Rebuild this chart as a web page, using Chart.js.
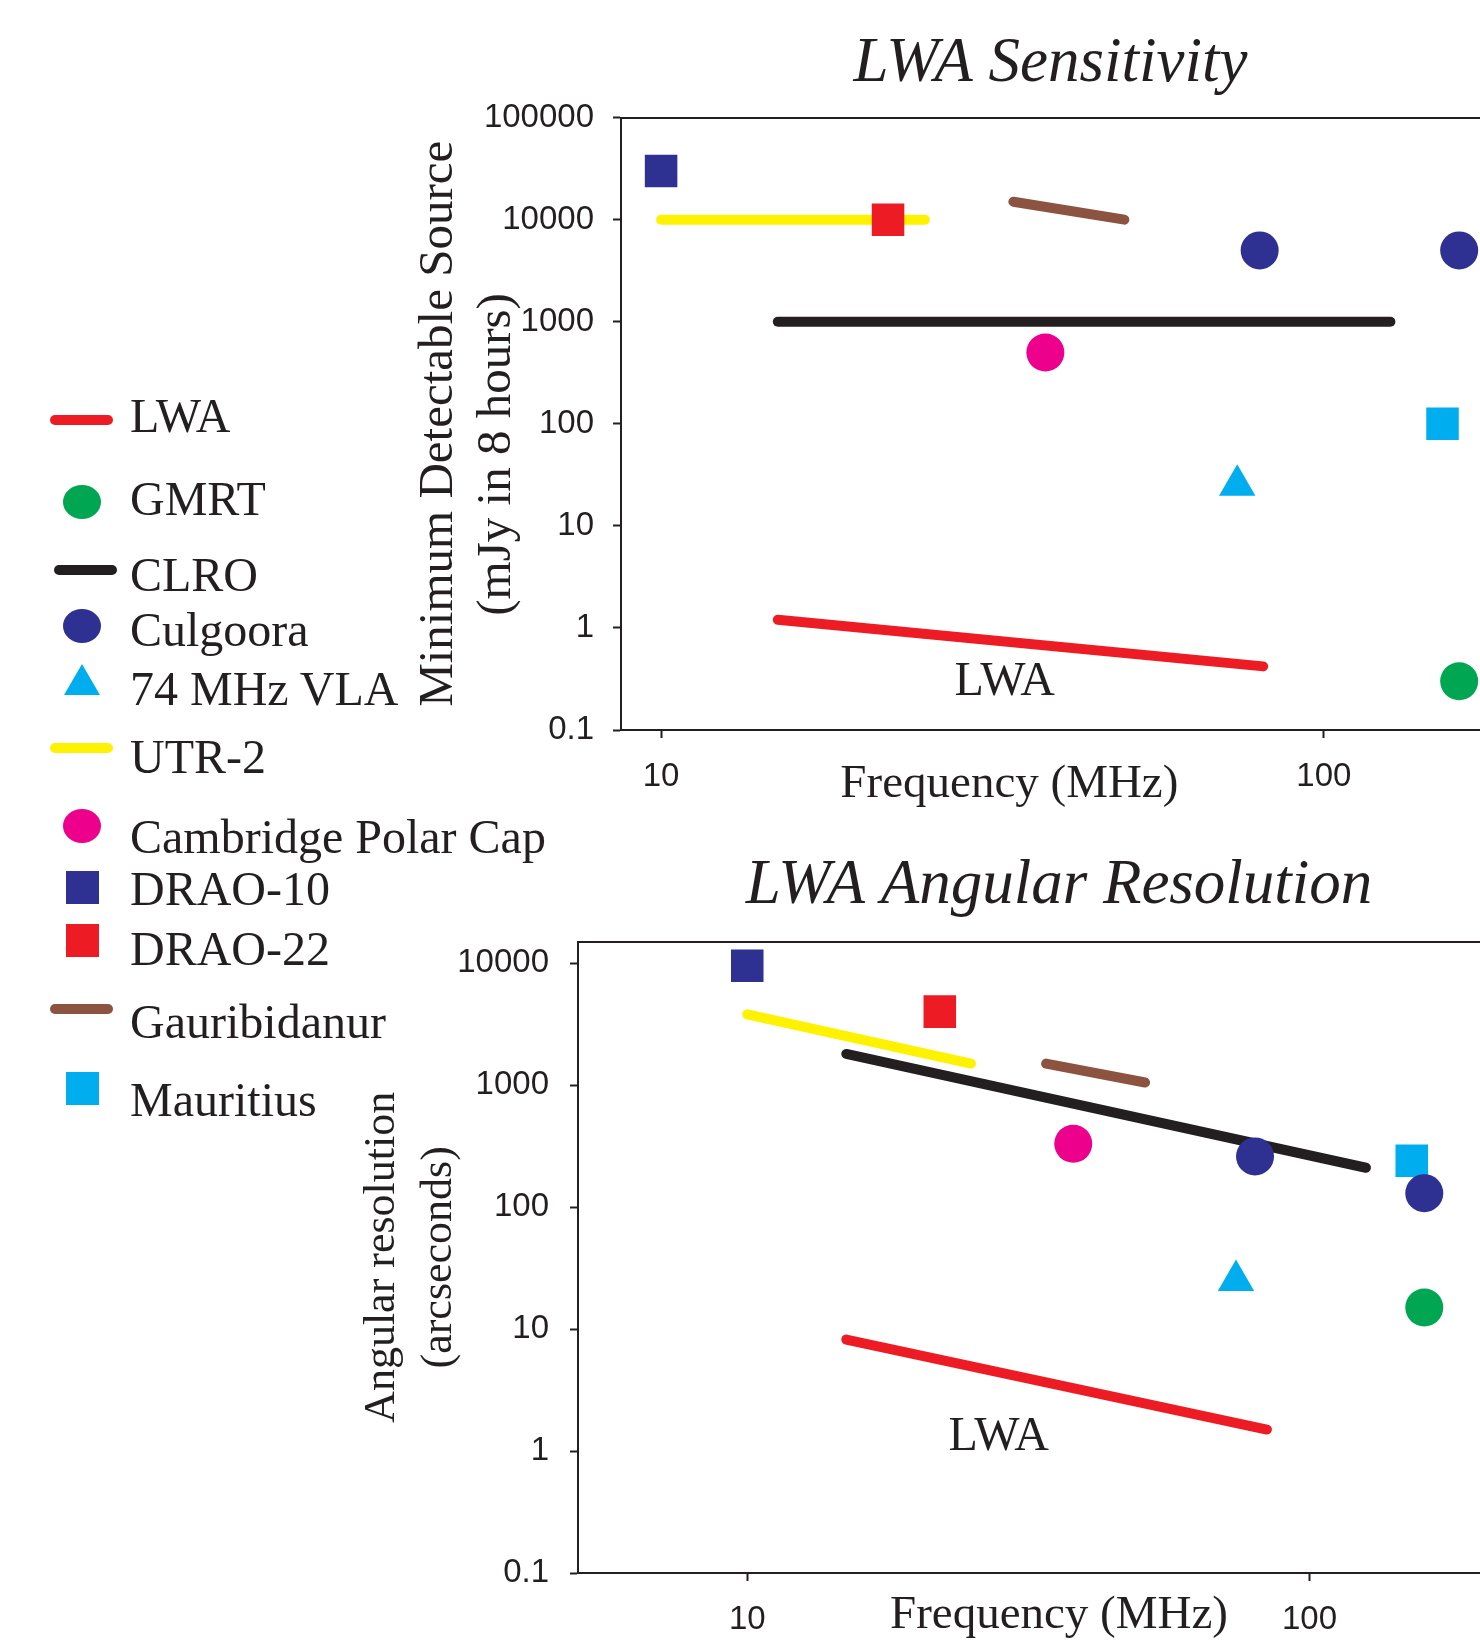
<!DOCTYPE html>
<html>
<head>
<meta charset="utf-8">
<script src="https://cdn.jsdelivr.net/npm/chart.js@4.4.1/dist/chart.umd.min.js"></script>
<style>
  html, body { margin: 0; padding: 0; background: #fff; overflow: hidden; }
  #page { position: relative; width: 1480px; height: 1640px; overflow: hidden; background: #fff; }
  #sens { position: absolute; left: 0; top: 0; }
  #res { position: absolute; left: 0; top: 820px; }
  #legend { position: absolute; left: 0; top: 0; font-family: 'Liberation Serif', 'Times New Roman', serif; font-size: 48px; color: #231f20; }
  .sym { position: absolute; }
  .name { position: absolute; left: 130px; line-height: 1; white-space: nowrap; transform: translateY(-50%); }
</style>
</head>
<body>
<div id="page">
  <canvas id="sens" width="1480" height="820"></canvas>
  <canvas id="res" width="1540" height="840"></canvas>
  <div id="legend"></div>
</div>
<script>
// instruments, as in the legend
const names = ['LWA', 'GMRT', 'CLRO', 'Culgoora', '74 MHz VLA', 'UTR-2', 'Cambridge Polar Cap', 'DRAO-10', 'DRAO-22', 'Gauribidanur', 'Mauritius'];
const colors = ['#ed1c24', '#00a651', '#231f20', '#2e3192', '#00aeef', '#fff200', '#ec008c', '#2e3192', '#ed1c24', '#8c5341', '#00aeef'];
const shapes = ['line', 'circle', 'line', 'circle', 'triangle', 'line', 'circle', 'rect', 'rect', 'line', 'rect'];

// sensitivity (mJy in 8 hours) vs frequency (MHz)
const sensFreq = {
  LWA: [15, 81], GMRT: [160], CLRO: [15, 126], Culgoora: [80, 160], VLA: [74], UTR2: [10, 25],
  Cambridge: [38], DRAO10: [10], DRAO22: [22], Gauribidanur: [34, 50], Mauritius: [151]
};
const lwaSens = [1.2, 0.42];
const gmrtSens = [0.3];
const clroSens = [1000, 1000];
const culgooraSens = [5000, 5000];
const vlaSens = [25];
const utr2Sens = [10000, 10000];
const cambridgeSens = [500];
const drao10Sens = [30000];
const drao22Sens = [10000];
const gauriSens = [15000, 10000];
const mauritiusSens = [100];

// angular resolution (arcseconds) vs frequency (MHz)
const resFreq = {
  LWA: [15, 84], GMRT: [160], CLRO: [15, 126], Culgoora: [80, 160], VLA: [74], UTR2: [10, 25],
  Cambridge: [38], DRAO10: [10], DRAO22: [22], Gauribidanur: [34, 51], Mauritius: [152]
};
const lwaRes = [8.2, 1.5];
const gmrtRes = [15];
const clroRes = [1800, 210];
const culgooraRes = [260, 130];
const vlaRes = [25];
const utr2Res = [3800, 1500];
const cambridgeRes = [330];
const drao10Res = [9500];
const drao22Res = [4000];
const gauriRes = [1500, 1050];
const mauritiusRes = [240];

const freqTicks = [10, 100];
const sensTicks = [0.1, 1, 10, 100, 1000, 10000, 100000];
const resTicks = [0.1, 1, 10, 100, 1000, 10000];

const ink = '#231f20';
const serif = "'Liberation Serif', 'Times New Roman', serif";
const sans = "'Liberation Sans', Arial, sans-serif";

function pts(xs, ys) {
  return xs.map((x, i) => ({ x: x, y: ys[i] }));
}

function lineSet(i, xs, ys) {
  return {
    label: names[i], data: pts(xs, ys), showLine: true,
    borderColor: colors[i], backgroundColor: colors[i], borderWidth: 10,
    borderCapStyle: 'round', pointRadius: 0, clip: false, order: 1
  };
}

function markSet(i, xs, ys) {
  let r = 19;
  if (shapes[i] == 'rect') r = 23;
  if (shapes[i] == 'triangle') r = 21;
  return {
    label: names[i], data: pts(xs, ys), showLine: false,
    pointStyle: shapes[i], pointRadius: r, pointHoverRadius: r,
    backgroundColor: colors[i], borderColor: colors[i], pointBorderWidth: 0,
    clip: false, order: 0
  };
}

// text inside the plot ("LWA" under the red line)
const noteLabel = {
  id: 'noteLabel',
  afterDatasetsDraw(chart, args, opts) {
    const ctx = chart.ctx;
    ctx.save();
    ctx.font = opts.size + 'px ' + serif;
    ctx.fillStyle = ink;
    ctx.textAlign = 'center';
    ctx.textBaseline = 'middle';
    ctx.fillText(opts.text, chart.scales.x.getPixelForValue(opts.x), chart.scales.y.getPixelForValue(opts.y));
    ctx.restore();
  }
};

function axisBits() {
  return {
    grid: { display: true, drawOnChartArea: false, drawTicks: true, tickLength: 8, tickColor: ink, tickWidth: 2 },
    border: { display: true, color: ink, width: 2 }
  };
}

function makeChart(el, cfg) {
  const xBits = axisBits();
  const yBits = axisBits();
  return new Chart(el, {
    type: 'scatter',
    data: { datasets: cfg.datasets },
    plugins: [noteLabel],
    options: {
      responsive: false,
      animation: false,
      events: [],
      layout: { padding: 0, autoPadding: false },
      plugins: {
        legend: { display: false },
        tooltip: { enabled: false },
        title: {
          display: true, text: cfg.title, fullSize: false, color: ink,
          font: { family: serif, size: 63, style: 'italic', weight: 'normal', lineHeight: 1.2 },
          padding: cfg.titlePad
        },
        noteLabel: cfg.note
      },
      scales: {
        x: {
          type: 'logarithmic', position: 'bottom', min: cfg.xMin, max: cfg.xMax,
          afterBuildTicks: s => { s.ticks = freqTicks.map(v => ({ value: v })); },
          afterFit: s => { s.height = cfg.xHeight; },
          ticks: { font: { family: sans, size: 33 }, color: ink, padding: cfg.xTickPad, maxRotation: 0, autoSkip: false, callback: v => String(v) },
          grid: xBits.grid, border: xBits.border,
          title: { display: true, text: cfg.xTitle, color: ink, font: { family: serif, size: 47 }, padding: { top: 0, bottom: cfg.xTitlePad } }
        },
        x2: {
          type: 'linear', position: 'top',
          ticks: { display: false }, grid: { display: false, drawTicks: false },
          border: { display: true, color: ink, width: 2 },
          afterFit: s => { s.height = 0; }
        },
        y: {
          type: 'logarithmic', position: 'left', min: cfg.yMin, max: cfg.yMax,
          afterBuildTicks: s => { s.ticks = cfg.yTicks.map(v => ({ value: v })); },
          afterFit: s => { s.width = cfg.yWidth; },
          ticks: { font: { family: sans, size: 33 }, color: ink, padding: cfg.yTickPad, autoSkip: false, callback: v => String(v) },
          grid: yBits.grid, border: yBits.border,
          title: { display: true, text: cfg.yTitle, color: ink, font: { family: serif, size: cfg.yTitleSize, lineHeight: cfg.yTitleLine }, padding: { top: cfg.yTitlePad, bottom: 0 } }
        }
      }
    }
  });
}

makeChart(document.getElementById('sens'), {
  title: 'LWA Sensitivity',
  titlePad: { top: 27, bottom: 15 },
  xMin: 8.7, xMax: 172, xHeight: 90, xTickPad: 19,
  xTitle: 'Frequency (MHz)       ', xTitlePad: 7,
  yMin: 0.1, yMax: 100000, yTicks: sensTicks, yWidth: 621, yTickPad: 19,
  yTitle: ['Minimum Detectable Source', '(mJy in 8 hours)     '], yTitleSize: 49, yTitleLine: 1.18, yTitlePad: 410,
  note: { text: 'LWA', x: 33, y: 0.29, size: 48 },
  datasets: [
    lineSet(0, sensFreq.LWA, lwaSens),
    markSet(1, sensFreq.GMRT, gmrtSens),
    lineSet(2, sensFreq.CLRO, clroSens),
    markSet(3, sensFreq.Culgoora, culgooraSens),
    markSet(4, sensFreq.VLA, vlaSens),
    lineSet(5, sensFreq.UTR2, utr2Sens),
    markSet(6, sensFreq.Cambridge, cambridgeSens),
    markSet(7, sensFreq.DRAO10, drao10Sens),
    markSet(8, sensFreq.DRAO22, drao22Sens),
    lineSet(9, sensFreq.Gauribidanur, gauriSens),
    markSet(10, sensFreq.Mauritius, mauritiusSens)
  ]
});

makeChart(document.getElementById('res'), {
  title: 'LWA Angular Resolution',
  titlePad: { top: 29, bottom: 17 },
  xMin: 5, xMax: 257, xHeight: 87, xTickPad: 19,
  xTitle: 'Frequency (MHz)', xTitlePad: 16,
  yMin: 0.1, yMax: 15000, yTicks: resTicks, yWidth: 578, yTickPad: 21,
  yTitle: ['Angular resolution', '(arcseconds)'], yTitleSize: 44, yTitleLine: 1.3, yTitlePad: 354,
  note: { text: 'LWA', x: 28, y: 1.3, size: 48 },
  datasets: [
    lineSet(0, resFreq.LWA, lwaRes),
    markSet(1, resFreq.GMRT, gmrtRes),
    lineSet(2, resFreq.CLRO, clroRes),
    markSet(3, resFreq.Culgoora, culgooraRes),
    markSet(4, resFreq.VLA, vlaRes),
    lineSet(5, resFreq.UTR2, utr2Res),
    markSet(6, resFreq.Cambridge, cambridgeRes),
    markSet(7, resFreq.DRAO10, drao10Res),
    markSet(8, resFreq.DRAO22, drao22Res),
    lineSet(9, resFreq.Gauribidanur, gauriRes),
    markSet(10, resFreq.Mauritius, mauritiusRes)
  ]
});

// legend on the left, built from the same names / colours / shapes
const legendTextY = [416, 499, 575, 630, 689, 757, 837, 889, 949, 1022, 1100];
const legendSymY = [420, 502, 570, 626, 680, 748, 826, 887, 940, 1009, 1088];
const legend = document.getElementById('legend');
names.forEach((name, i) => {
  const sym = document.createElement('div');
  sym.className = 'sym';
  const y = legendSymY[i];
  if (shapes[i] == 'line') {
    const x0 = (i == 2) ? 54 : 50;
    sym.style.cssText = `left:${x0}px;top:${y - 5}px;width:63px;height:10px;border-radius:5px;background:${colors[i]}`;
  } else if (shapes[i] == 'circle') {
    sym.style.cssText = `left:63px;top:${y - 17}px;width:38px;height:34px;border-radius:50%;background:${colors[i]}`;
  } else if (shapes[i] == 'rect') {
    sym.style.cssText = `left:66px;top:${y - 16}px;width:33px;height:33px;background:${colors[i]}`;
  } else {
    sym.style.cssText = `left:64px;top:${y - 16}px;width:0;height:0;border-left:18px solid transparent;border-right:18px solid transparent;border-bottom:31px solid ${colors[i]}`;
  }
  legend.appendChild(sym);
  const txt = document.createElement('div');
  txt.className = 'name';
  txt.style.top = legendTextY[i] + 'px';
  txt.textContent = name;
  legend.appendChild(txt);
});
</script>
</body>
</html>
